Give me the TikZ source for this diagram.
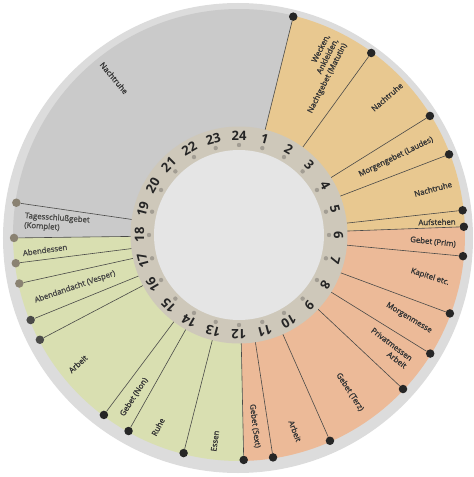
\documentclass[tikz,border=0pt]{standalone}
\usepackage{fontspec}
\setmainfont{Open Sans}
\newfontfamily\lblfont{Open Sans}[FakeBold=1.4]
\usepackage{xcolor}
\usepackage{tikz}
\usetikzlibrary{positioning}
\definecolor{rimgray}{HTML}{DCDCDC}
\definecolor{nightgray}{HTML}{CACACA}
\definecolor{morningtan}{HTML}{E8C890}
\definecolor{daysalmon}{HTML}{ECBA98}
\definecolor{evegreen}{HTML}{D9DFB1}
\definecolor{ringbeige}{HTML}{CEC8BA}
\definecolor{ringdot}{HTML}{A29D93}
\definecolor{innerwhite}{HTML}{E5E5E5}
\definecolor{dk}{HTML}{262626}
\definecolor{md}{HTML}{4A4A48}
\definecolor{lt}{HTML}{8A8272}
\definecolor{txt}{HTML}{363636}

\begin{document}
\begin{tikzpicture}[x=1pt,y=1pt,
  lbl/.style={font=\lblfont\fontsize{7.8}{9.5}\selectfont,text=txt,inner sep=0pt},
  hr/.style={font=\fontsize{13}{13}\selectfont\bfseries,text=dk,inner sep=0pt},
  dot/.style={circle,inner sep=0pt,minimum size=8.5pt},
  sep/.style={draw=md,line width=0.6pt}]
\useasboundingbox (-239,-242) rectangle (235,235);
% rim and sectors
\fill[rimgray] (-1,-3) circle (235);
\fill[nightgray] (0,0) -- (-179.25:226) arc[start angle=-179.25,end angle=-283.95,radius=226] -- cycle;
\fill[morningtan] (0,0) -- (76.05:226) arc[start angle=76.05,end angle=2.1,radius=226] -- cycle;
\fill[daysalmon] (0,0) -- (2.1:226) arc[start angle=2.1,end angle=-88.8,radius=226] -- cycle;
\fill[evegreen] (0,0) -- (-88.8:226) arc[start angle=-88.8,end angle=-179.25,radius=226] -- cycle;
% boundaries
\foreach \h/\c [count=\k] in {0.93/dk,2.4/dk,3.87/dk,4.6/dk,5.58/dk,5.86/dk,6.36/dk,7.36/dk,8.12/dk,8.88/dk,10.41/dk,11.42/dk,11.92/dk,12.95/dk,13.96/dk,14.46/dk,16.15/md,16.52/md,17.17/lt,17.52/lt,17.95/lt,18.55/lt}{
  \coordinate (in\k) at ({90-15*\h}:108);
  \node[dot,fill=\c] (out\k) at ({90-15*\h}:225) {};
  \draw[sep] (in\k) -- (out\k);
}
% hour ring
\fill[ringbeige] (0,0) circle (108.5);
\fill[innerwhite] (0,0) circle (85);
\foreach \h in {1,...,24}{
  \fill[ringdot] ({90-15*\h}:90) circle (2.2);
  \node[hr,rotate={-15*\h}] (h\h) at ({90-15*\h}:99.5) {\h};
}
% activities
\node[lbl,rotate=-50] (nacht0) at (-125,157) {Nachtruhe};
\node[lbl,rotate=63,align=right] (wecken) at (80,161) {Wecken,\\Ankleiden,\\Nachtgebet (Matutin)};
\node[lbl,rotate=41] (nacht1) at (148,138) {Nachtruhe};
\node[lbl,rotate=26] (laudes) at (157,78) {Morgengebet (Laudes)};
\node[lbl,rotate=15] (nacht2) at (194,46) {Nachtruhe};
\node[lbl,rotate=1] (aufst) at (198,13) {Aufstehen};
\node[lbl,rotate=-6] (prim) at (194,-7) {Gebet (Prim)};
\node[lbl,rotate=-18] (kapitel) at (191,-42) {Kapitel etc.};
\node[lbl,rotate=-31] (messe) at (170,-83) {Morgenmesse};
\node[lbl,rotate=-37,align=right] (privat) at (150,-113) {Privatmessen\\Arbeit};
\node[lbl,rotate=-57] (terz) at (111,-157) {Gebet (Terz)};
\node[lbl,rotate=-69] (arbeit1) at (56,-196) {Arbeit};
\node[lbl,rotate=-83] (sext) at (16,-191) {Gebet (Sext)};
\node[lbl,rotate=82] (essen) at (-24,-206) {Essen};
\node[lbl,rotate=62] (ruhe) at (-81,-192) {Ruhe};
\node[lbl,rotate=57] (non) at (-105,-162) {Gebet (Non)};
\node[lbl,rotate=42] (arbeit2) at (-161,-129) {Arbeit};
\node[lbl,rotate=19,text=md] (vesper) at (-164,-52) {Abendandacht (Vesper)};
\node[lbl,rotate=8,text=md] (abendessen) at (-194,-15) {Abendessen};
\node[lbl,rotate=-4,align=left,text=md] (komplet) at (-182,12) {Tagesschlußgebet\\(Komplet)};
\end{tikzpicture}
\end{document}
